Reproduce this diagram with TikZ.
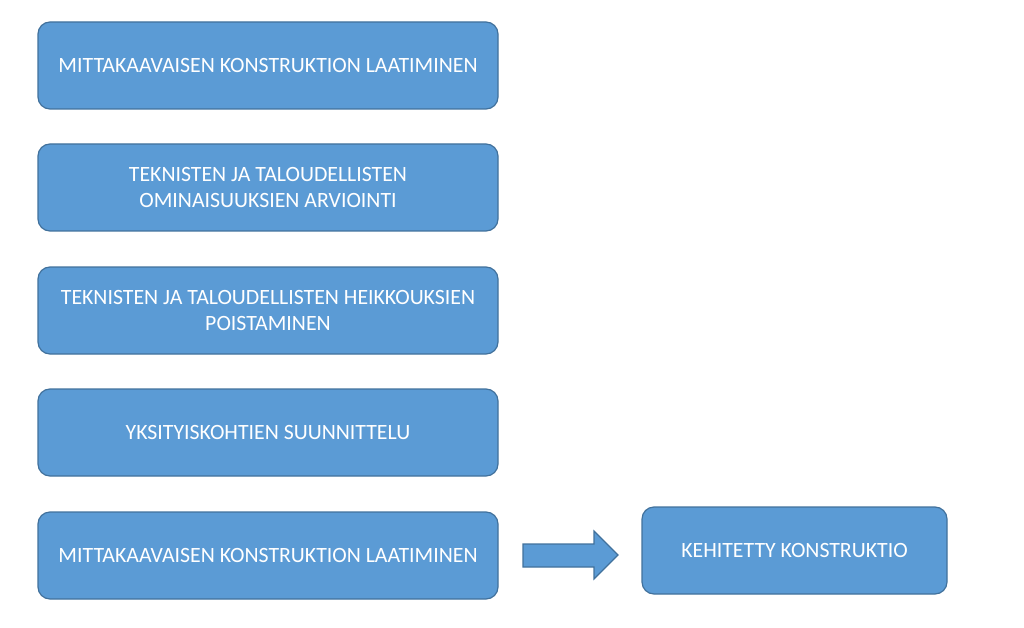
\documentclass[tikz,border=0pt]{standalone}
\usepackage{fontspec}
\setmainfont{Carlito}
\definecolor{boxblue}{HTML}{5B9BD5}
\definecolor{boxedge}{HTML}{41719C}
\begin{document}
\begin{tikzpicture}[x=1pt,y=-1pt,
  stage/.style={draw=boxedge,fill=boxblue,line width=1.2pt,rounded corners=12pt,
    minimum width=460pt,minimum height=87pt,text=white,align=center,
    font=\fontsize{21.8}{26}\selectfont,inner sep=0pt},
  result/.style={stage,minimum width=305pt}]
\useasboundingbox (0,0) rectangle (1024,628);
\node[stage] (s1) at (268,65.5) {MITTAKAAVAISEN KONSTRUKTION LAATIMINEN};
\node[stage] (s2) at (268,187.5) {TEKNISTEN JA TALOUDELLISTEN\\OMINAISUUKSIEN ARVIOINTI};
\node[stage] (s3) at (268,310.5) {TEKNISTEN JA TALOUDELLISTEN HEIKKOUKSIEN\\POISTAMINEN};
\node[stage] (s4) at (268,432.5) {YKSITYISKOHTIEN SUUNNITTELU};
\node[stage] (s5) at (268,555.5) {MITTAKAAVAISEN KONSTRUKTION LAATIMINEN};
\node[result] (r) at (794.5,550.5) {KEHITETTY KONSTRUKTIO};
\draw[draw=boxedge,fill=boxblue,line width=1.2pt]
  (523,544) -- (594,544) -- (594,531) -- (618,555) -- (594,579) -- (594,567) -- (523,567) -- cycle;
\end{tikzpicture}
\end{document}
